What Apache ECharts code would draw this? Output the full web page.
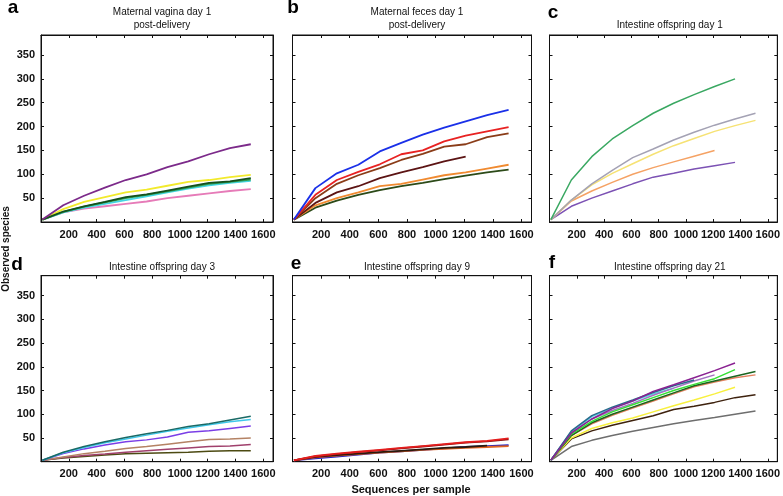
<!DOCTYPE html>
<html>
<head>
<meta charset="utf-8">
<script src="https://cdn.jsdelivr.net/npm/echarts@6/dist/echarts.min.js"></script>
<style>
  html, body { margin: 0; padding: 0; background: #fff; }
  #chart { width: 783px; height: 496px; }
</style>
</head>
<body>
<div id="chart"></div>
<script>
// rarefaction depths (sequences per sample)
const steps = [10, 160, 310, 460, 610, 760, 910, 1060, 1210, 1360, 1510];
const xTicks = [200, 400, 600, 800, 1000, 1200, 1400, 1600];
const yTicks = [50, 100, 150, 200, 250, 300, 350];

const panelTitles = [
  'Maternal vagina day 1\npost-delivery',
  'Maternal feces day 1\npost-delivery',
  'Intestine offspring day 1',
  'Intestine offspring day 3',
  'Intestine offspring day 9',
  'Intestine offspring day 21'
];
const panelLetters = ['a', 'b', 'c', 'd', 'e', 'f'];

// a - maternal vagina
const vagPurple = [5, 35, 55, 72, 88, 100, 115, 127, 142, 155, 163];
const vagYellow = [5, 27, 42, 52, 62, 68, 76, 84, 88, 94, 99];
const vagDkGreen = [5, 22, 33, 42, 52, 58, 66, 74, 82, 85, 92];
const vagGreen = [5, 21, 32, 41, 50, 57, 64, 72, 80, 84, 89];
const vagCyan = [5, 20, 30, 38, 46, 54, 62, 70, 77, 82, 86];
const vagPink = [5, 20, 28, 33, 38, 43, 50, 55, 60, 65, 69];

// b - maternal feces
const fecBlue = [5, 71, 102, 120, 148, 166, 183, 198, 211, 224, 235];
const fecRed = [5, 57, 88, 105, 121, 142, 150, 169, 181, 190, 199];
const fecBrown = [5, 50, 80, 98, 113, 130, 143, 158, 163, 178, 186];
const fecMaroon = [5, 40, 62, 75, 92, 104, 115, 127, 137];
const fecOrange = [5, 35, 50, 62, 75, 80, 89, 98, 104, 112, 120];
const fecDkGreen = [5, 30, 45, 57, 67, 75, 82, 90, 97, 104, 110];

// c - offspring day 1
const d1Green = [5, 88, 137, 174, 202, 228, 249, 267, 284, 300];
const d1Gray = [5, 46, 80, 108, 135, 153, 172, 188, 203, 216, 228];
const d1Yellow = [5, 46, 78, 102, 122, 142, 160, 175, 190, 202, 213];
const d1Orange = [5, 44, 65, 83, 100, 114, 126, 138, 150];
const d1Purple = [5, 33, 50, 65, 80, 94, 102, 111, 118, 125];

// d - offspring day 3
const d3Teal = [3, 20, 32, 42, 51, 59, 66, 74, 80, 88, 96];
const d3Cyan = [3, 19, 30, 40, 48, 56, 64, 71, 78, 84, 89];
const d3Purple = [3, 17, 27, 35, 42, 46, 52, 62, 65, 70, 75];
const d3Tan = [3, 10, 17, 22, 28, 32, 37, 42, 47, 48, 50];
const d3Pink = [3, 9, 13, 16, 20, 23, 26, 29, 32, 33, 36];
const d3Olive = [3, 8, 11, 14, 17, 18, 19, 20, 22, 23, 23];

// e - offspring day 9
const d9Blue = [3, 7, 11, 15, 19, 22, 25, 28, 31, 33, 35];
const d9Orange = [3, 9, 13, 16, 19, 22, 25, 27, 29, 31, 33];
const d9Black = [3, 10, 14, 17, 20, 23, 26, 29, 31, 34];
const d9DkRed = [3, 11, 16, 20, 24, 28, 32, 36, 40, 43, 47];
const d9Red = [3, 12, 17, 21, 25, 29, 33, 37, 41, 44, 49];

// f - offspring day 21
const d21Purple = [3, 60, 90, 112, 128, 148, 162, 177, 192, 208];
const d21Teal = [3, 65, 97, 115, 130, 146, 160, 172];
const d21Green = [3, 58, 85, 105, 120, 135, 150, 163, 175, 194];
const d21DkGreen = [3, 55, 82, 100, 115, 130, 145, 160, 170, 180, 190];
const d21Salmon = [3, 55, 80, 98, 113, 128, 143, 158, 168, 177, 183];
const d21Lavender = [3, 62, 90, 108, 123, 140, 155, 170, 183];
const d21Cyan = [3, 63, 95, 113, 128, 143, 155];
const d21Yellow = [3, 50, 70, 82, 92, 105, 118, 130, 143, 157];
const d21Brown = [3, 48, 65, 77, 87, 97, 110, 117, 125, 135, 141];
const d21Gray = [3, 32, 45, 55, 64, 72, 80, 87, 93, 100, 107];

const panels = [
  [[vagPink, '#e67bb8'], [vagCyan, '#44d6e4'], [vagGreen, '#2f9e52'], [vagYellow, '#f2ea2c'], [vagDkGreen, '#14501c'], [vagPurple, '#7c2a8a']],
  [[fecDkGreen, '#2c4a18'], [fecOrange, '#f08a30'], [fecMaroon, '#5c1414'], [fecBrown, '#8a3c18'], [fecRed, '#e82222'], [fecBlue, '#1a30e8']],
  [[d1Purple, '#7c52b4'], [d1Orange, '#f5a264'], [d1Yellow, '#f6e274'], [d1Gray, '#a4a2b4'], [d1Green, '#3aa862']],
  [[d3Olive, '#4c4a12'], [d3Pink, '#a0406c'], [d3Tan, '#b48264'], [d3Purple, '#7a3ee6'], [d3Cyan, '#3ec8ea'], [d3Teal, '#1a6a66']],
  [[d9Blue, '#2222c4'], [d9Orange, '#e06424'], [d9Black, '#2a1a0e'], [d9DkRed, '#8a1212'], [d9Red, '#e41e1e']],
  [[d21Gray, '#6e6e6e'], [d21Brown, '#3e220e'], [d21Yellow, '#f8f03e'], [d21Cyan, '#52d2e2'], [d21Salmon, '#e2805e'], [d21DkGreen, '#1a6420'], [d21Lavender, '#a472c2'], [d21Green, '#34e034'], [d21Teal, '#2a6a8c'], [d21Purple, '#8a2292']]
];
const lineWidths = [1.8, 1.8, 1.5, 1.5, 1.8, 1.5];

const colLeft = [41, 292.5, 549.5];
const colWidth = [232, 239, 230.5];
const rowTop = [35, 275.7];
const rowHeight = [187, 186];
const X_MAX = 1670, Y_MAX = 392;

const chart = echarts.init(document.getElementById('chart'));

const grid = [], xAxis = [], yAxis = [], series = [], title = [], graphic = [];
const labelFont = { fontFamily: 'Liberation Sans', fontWeight: 'bold', fontSize: 11, color: '#111' };
const lineStyle = { color: '#111', width: 1 };
const tick = { show: true, inside: true, length: 3, lineStyle: lineStyle };

panels.forEach(function (lines, i) {
  const col = i % 3, row = Math.floor(i / 3);
  grid.push({
    left: colLeft[col], top: rowTop[row], width: colWidth[col], height: rowHeight[row],
    show: true, borderColor: '#111', borderWidth: 1, backgroundColor: '#fff'
  });
  // bottom/left axes carry the labels, top/right only the inner tick marks
  ['bottom', 'top'].forEach(function (pos) {
    xAxis.push({
      type: 'value', gridIndex: i, min: 0, max: X_MAX, interval: 200, position: pos,
      axisLine: { onZero: false, lineStyle: lineStyle }, splitLine: { show: false }, axisTick: tick,
      axisLabel: Object.assign({ show: pos === 'bottom', margin: 7,
        formatter: v => xTicks.indexOf(v) >= 0 ? String(v) : '' }, labelFont)
    });
  });
  ['left', 'right'].forEach(function (pos) {
    yAxis.push({
      type: 'value', gridIndex: i, min: 0, max: Y_MAX, interval: 50, position: pos,
      axisLine: { show: true, onZero: false, lineStyle: lineStyle }, splitLine: { show: false }, axisTick: tick,
      axisLabel: Object.assign({ show: pos === 'left' && col === 0, margin: 6,
        formatter: v => yTicks.indexOf(v) >= 0 ? String(v) : '' }, labelFont)
    });
  });
  lines.forEach(function (pair) {
    const vals = pair[0];
    series.push({
      type: 'line', xAxisIndex: i * 2, yAxisIndex: i * 2,
      data: vals.map((v, k) => [steps[k], v]),
      showSymbol: false, silent: true,
      lineStyle: { color: pair[1], width: lineWidths[i] }
    });
  });
  const cx = colLeft[col] + colWidth[col] / 2;
  const twoLine = panelTitles[i].indexOf('\n') >= 0;
  title.push({
    text: panelTitles[i], left: cx, top: row === 0 ? (twoLine ? 1 : 14) : 256,
    textAlign: 'center',
    textStyle: { fontFamily: 'Liberation Sans', fontSize: 10, fontWeight: 'normal', color: '#111', lineHeight: 13 }
  });
});

const letterPos = [[13, 8], [293, 8], [553, 13], [17, 265], [296, 264], [552, 263]];
panelLetters.forEach(function (t, i) {
  graphic.push({
    type: 'text', x: letterPos[i][0], y: letterPos[i][1],
    style: { text: t, font: 'bold 19px Liberation Sans', fill: '#000', align: 'center', verticalAlign: 'middle' }
  });
});
graphic.push({
  type: 'text', x: 6, y: 249, rotation: Math.PI / 2,
  style: { text: 'Observed species', font: 'bold 10px Liberation Sans', fill: '#111', align: 'center', verticalAlign: 'middle' }
});
graphic.push({
  type: 'text', x: 411, y: 490,
  style: { text: 'Sequences per sample', font: 'bold 11px Liberation Sans', fill: '#111', align: 'center', verticalAlign: 'middle' }
});

chart.setOption({
  animation: false,
  backgroundColor: '#fff',
  title: title,
  grid: grid,
  xAxis: xAxis,
  yAxis: yAxis,
  series: series,
  graphic: graphic
});
</script>
</body>
</html>
